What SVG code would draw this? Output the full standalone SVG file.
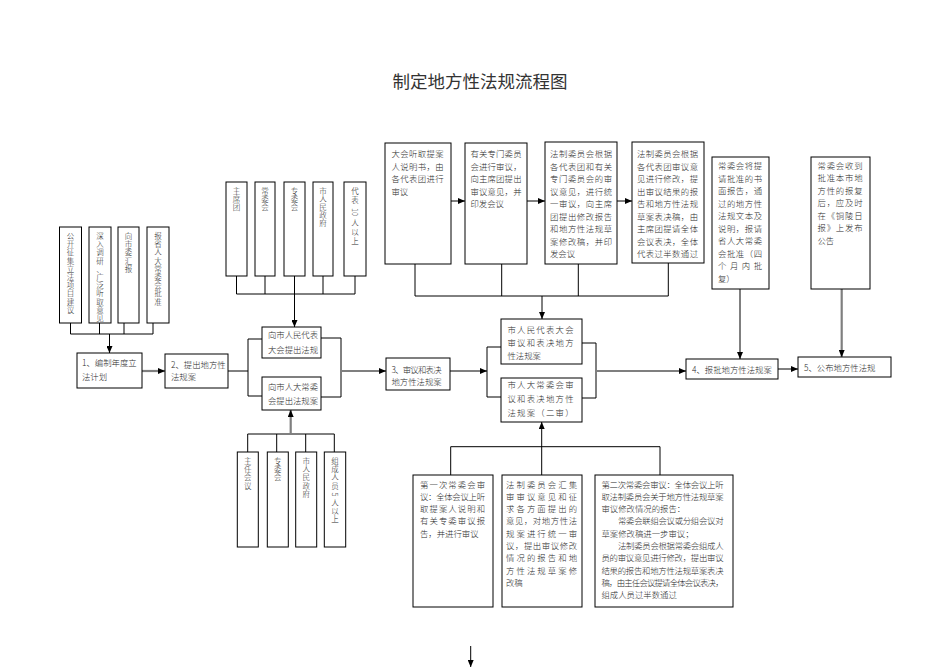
<svg xmlns="http://www.w3.org/2000/svg" width="945" height="669" viewBox="0 0 945 669">
<style>
.b{fill:#fff;stroke:#000;stroke-width:1}
.l{fill:none;stroke:#000;stroke-width:1}
.g{fill:none;stroke:#7f7f7f;stroke-width:2.2}
text{font-family:"Noto Sans CJK SC","Noto Sans",sans-serif;font-size:8.4px;fill:#2a2a2a;font-weight:300}
.v{font-size:7.5px;text-anchor:middle}
.title{font-size:17.5px;fill:#333;font-weight:400}
</style>
<defs>
<marker id="a" markerWidth="7" markerHeight="6" refX="7" refY="3" orient="auto" markerUnits="userSpaceOnUse"><path d="M0,0 L7,3 L0,6z" fill="#000"/></marker>
</defs>
<rect width="945" height="669" fill="#fff"/>
<text class="title" x="480" y="88" text-anchor="middle">制定地方性法规流程图</text>

<g id="connectors">
<path class="l" d="M70.5,323V334M99.5,323V334M124,323V334M153,323V334M70.5,334H153"/>
<path class="l" d="M109.5,334V353" marker-end="url(#a)"/>
<path class="g" d="M142,371H165" marker-end="url(#a)"/>
<path class="l" d="M228,371H248"/>
<path class="l" d="M262,339H248V396H262"/>
<path class="l" d="M321,338H341V397H321"/>
<path class="g" d="M341,371H386" marker-end="url(#a)"/>
<path class="l" d="M236.5,276V294M265,276V294M294.5,276V294M323,276V294M355,276V294M236.5,294H355"/>
<path class="l" d="M294.5,294V327" marker-end="url(#a)"/>
<path class="l" d="M247.7,452V434H334.3V452M276.7,434V452M305.7,434V452"/>
<path class="g" d="M290.7,434V410" marker-end="url(#a)"/>
<path class="g" d="M450,371H487" marker-end="url(#a)"/>
<path class="l" d="M501,347H487V397H501"/>
<path class="l" d="M582,343H596V398H582"/>
<path class="g" d="M596,371H686" marker-end="url(#a)"/>
<path class="l" d="M451,201H465" marker-end="url(#a)"/>
<path class="l" d="M527,201H545" marker-end="url(#a)"/>
<path class="l" d="M617,201H632" marker-end="url(#a)"/>
<path class="l" d="M415,264V296M501.7,264V296M578.3,264V296M668.3,263V296M415,296H668.3"/>
<path class="l" d="M542,296V319" marker-end="url(#a)"/>
<path class="l" d="M740,289V359" marker-end="url(#a)"/>
<path class="g" d="M841.7,289V357" marker-end="url(#a)"/>
<path class="l" d="M778,369H798" marker-end="url(#a)"/>
<path class="l" d="M450.7,475V446.7H660V475"/>
<path class="l" d="M541.7,475V422" marker-end="url(#a)"/>
<path class="l" d="M470.7,646V667" marker-end="url(#a)"/>
</g>

<g id="n-l1"><rect class="b" x="59.5" y="227" width="22" height="96"/><text class="v" x="70.5 70.5 70.5 70.5 70.5 70.5 70.5 70.5 70.5 70.5" y="239 247.2 255.4 263.6 271.8 280 288.2 296.4 304.6 312.8">公开征集立法项目建议</text></g>
<g id="n-l2"><rect class="b" x="89" y="227" width="22" height="96"/><text class="v" x="100 100 100 100 100 100 100 100 100 100 100" y="239 247.2 255.4 263.6 271.8 280 288.2 296.4 304.6 312.8 321">深入调研、广泛听取意见</text></g>
<g id="n-l3"><rect class="b" x="118" y="227" width="21" height="96"/><text class="v" x="128.5 128.5 128.5 128.5 128.5" y="239 247.2 255.4 263.6 271.8">向市委汇报</text></g>
<g id="n-l4"><rect class="b" x="147" y="227" width="22" height="96"/><text class="v" x="158 158 158 158 158 158 158 158 158" y="239 247.2 255.4 263.6 271.8 280 288.2 296.4 304.6">报省人大常委会批准</text></g>

<g id="n-t1"><rect class="b" x="226" y="182" width="21" height="94"/><text class="v" x="236.5 236.5 236.5" y="193.5 201.7 209.9">主席团</text></g>
<g id="n-t2"><rect class="b" x="255" y="182" width="20" height="94"/><text class="v" x="265 265 265" y="193.5 201.7 209.9">常委会</text></g>
<g id="n-t3"><rect class="b" x="284" y="182" width="21" height="94"/><text class="v" x="294.5 294.5 294.5" y="193.5 201.7 209.9">专委会</text></g>
<g id="n-t4"><rect class="b" x="313" y="182" width="20" height="94"/><text class="v" x="323 323 323 323 323" y="193.5 201.7 209.9 218.1 226.3">市人民政府</text></g>
<g id="n-t5"><rect class="b" x="344" y="182" width="22" height="94"/><text class="v" x="355 355" y="194 203">代表</text><text class="v" transform="translate(355,212) rotate(90)" dominant-baseline="central" x="0" y="0">10</text><text class="v" x="355 355 355" y="226 235 244">人以上</text></g>

<g id="n-b1"><rect class="b" x="237.3" y="452" width="21" height="95"/><text class="v" x="247.8 247.8 247.8 247.8" y="464 472.2 480.4 488.6">主任会议</text></g>
<g id="n-b2"><rect class="b" x="267.3" y="452" width="21" height="95"/><text class="v" x="277.8 277.8 277.8" y="464 472.2 480.4">专委会</text></g>
<g id="n-b3"><rect class="b" x="295.7" y="452" width="21" height="95"/><text class="v" x="306.2 306.2 306.2 306.2 306.2" y="464 472.2 480.4 488.6 496.8">市人民政府</text></g>
<g id="n-b4"><rect class="b" x="324.3" y="452" width="21.4" height="95"/><text class="v" x="335 335 335 335" y="464 472.2 480.4 488.6">组成人员</text><text class="v" transform="translate(335,494.5) rotate(90)" dominant-baseline="central" x="0" y="0">5</text><text class="v" x="335 335 335" y="506 514.2 522.4">人以上</text></g>

<g id="n1"><rect class="b" x="77" y="353" width="65" height="35"/><text x="82" y="366">1、编制年度立</text><text x="82" y="380">法计划</text></g>
<g id="n2"><rect class="b" x="165" y="354" width="63" height="34"/><text x="171" y="367.5">2、提出地方性</text><text x="171" y="380">法规案</text></g>

<g id="nA"><rect class="b" x="262" y="327" width="59" height="31"/><text x="268" y="338" textLength="50" lengthAdjust="spacing">向市人民代表</text><text x="268" y="353" textLength="50" lengthAdjust="spacing">大会提出法规</text></g>
<g id="nB"><rect class="b" x="262" y="377" width="59" height="33"/><text x="268" y="390" textLength="50" lengthAdjust="spacing">向市人大常委</text><text x="268" y="404" textLength="50" lengthAdjust="spacing">会提出法规案</text></g>

<g id="n3"><rect class="b" x="386" y="358" width="64" height="32"/><text x="391.5" y="372.5" textLength="50" lengthAdjust="spacing">3、审议和表决</text><text x="391.5" y="385">地方性法规案</text></g>

<g id="nC"><rect class="b" x="501" y="319" width="81" height="45"/><text x="507.5" y="333" textLength="66" lengthAdjust="spacing">市人民代表大会</text><text x="507.5" y="346" textLength="66" lengthAdjust="spacing">审议和表决地方</text><text x="507.5" y="359">性法规案</text></g>
<g id="nD"><rect class="b" x="501" y="378" width="81" height="44"/><text x="507.5" y="387.5" textLength="66" lengthAdjust="spacing">市人大常委会审</text><text x="507.5" y="402" textLength="66" lengthAdjust="spacing">议和表决地方性</text><text x="507.5" y="416" textLength="66" lengthAdjust="spacing">法规案（二审）</text></g>

<g id="nE1"><rect class="b" x="385" y="143" width="66" height="121"/><text x="391.5" y="157" textLength="52" lengthAdjust="spacing">大会听取提案</text><text x="391.5" y="169.5" textLength="52" lengthAdjust="spacing">人说明书，由</text><text x="391.5" y="182" textLength="52" lengthAdjust="spacing">各代表团进行</text><text x="391.5" y="194.5">审议</text></g>
<g id="nE2"><rect class="b" x="465" y="143" width="62" height="121"/><text x="470.5" y="157" textLength="51" lengthAdjust="spacing">有关专门委员</text><text x="470.5" y="169.5" textLength="51" lengthAdjust="spacing">会进行审议，</text><text x="470.5" y="182" textLength="51" lengthAdjust="spacing">向主席团提出</text><text x="470.5" y="194.5" textLength="51" lengthAdjust="spacing">审议意见，并</text><text x="470.5" y="207">印发会议</text></g>
<g id="nE3"><rect class="b" x="545" y="142" width="72" height="122"/><text x="550" y="157" textLength="62" lengthAdjust="spacing">法制委员会根据</text><text x="550" y="169.5" textLength="62" lengthAdjust="spacing">各代表团和有关</text><text x="550" y="182" textLength="62" lengthAdjust="spacing">专门委员会的审</text><text x="550" y="194.5" textLength="62" lengthAdjust="spacing">议意见，进行统</text><text x="550" y="207" textLength="62" lengthAdjust="spacing">一审议，向主席</text><text x="550" y="219.5" textLength="62" lengthAdjust="spacing">团提出修改报告</text><text x="550" y="232" textLength="62" lengthAdjust="spacing">和地方性法规草</text><text x="550" y="244.5" textLength="62" lengthAdjust="spacing">案修改稿，并印</text><text x="550" y="257">发会议</text></g>
<g id="nE4"><rect class="b" x="632" y="142" width="72" height="121"/><text x="637" y="157" textLength="61" lengthAdjust="spacing">法制委员会根据</text><text x="637" y="169.5" textLength="61" lengthAdjust="spacing">各代表团审议意</text><text x="637" y="182" textLength="61" lengthAdjust="spacing">见进行修改，提</text><text x="637" y="194.5" textLength="61" lengthAdjust="spacing">出审议结果的报</text><text x="637" y="207" textLength="61" lengthAdjust="spacing">告和地方性法规</text><text x="637" y="219.5" textLength="61" lengthAdjust="spacing">草案表决稿，由</text><text x="637" y="232" textLength="61" lengthAdjust="spacing">主席团提请全体</text><text x="637" y="244.5" textLength="61" lengthAdjust="spacing">会议表决，全体</text><text x="637" y="257" textLength="61" lengthAdjust="spacing">代表过半数通过</text></g>

<g id="nF"><rect class="b" x="712" y="157" width="57" height="132"/><text x="718" y="169" textLength="44" lengthAdjust="spacing">常委会将提</text><text x="718" y="181.5" textLength="44" lengthAdjust="spacing">请批准的书</text><text x="718" y="194" textLength="44" lengthAdjust="spacing">面报告，通</text><text x="718" y="206.5" textLength="44" lengthAdjust="spacing">过的地方性</text><text x="718" y="219" textLength="44" lengthAdjust="spacing">法规文本及</text><text x="718" y="231.5" textLength="44" lengthAdjust="spacing">说明，报请</text><text x="718" y="244" textLength="44" lengthAdjust="spacing">省人大常委</text><text x="718" y="256.5" textLength="44" lengthAdjust="spacing">会批准（四</text><text x="718" y="269" textLength="44" lengthAdjust="spacing">个月内批</text><text x="718" y="281.5">复）</text></g>
<g id="nG"><rect class="b" x="811" y="157" width="59" height="132"/><text x="817.5" y="168.5" textLength="45" lengthAdjust="spacing">常委会收到</text><text x="817.5" y="181" textLength="45" lengthAdjust="spacing">批准本市地</text><text x="817.5" y="193.5" textLength="45" lengthAdjust="spacing">方性的报复</text><text x="817.5" y="206" textLength="45" lengthAdjust="spacing">后，应及时</text><text x="817.5" y="218.5" textLength="45" lengthAdjust="spacing">在《铜陵日</text><text x="817.5" y="231" textLength="45" lengthAdjust="spacing">报》上发布</text><text x="817.5" y="243.5">公告</text></g>

<g id="n4"><rect class="b" x="686" y="359" width="92" height="20"/><text x="692" y="372.5">4、报批地方性法规案</text></g>
<g id="n5"><rect class="b" x="798" y="357" width="93" height="20"/><text x="804" y="370.5">5、公布地方性法规</text></g>

<g id="nI1"><rect class="b" x="413" y="475" width="80" height="132"/><text x="420" y="487.5" textLength="65" lengthAdjust="spacing">第一次常委会审</text><text x="420" y="499.8" textLength="65" lengthAdjust="spacing">议：全体会议上听</text><text x="420" y="512.1" textLength="65" lengthAdjust="spacing">取提案人说明和</text><text x="420" y="524.4" textLength="65" lengthAdjust="spacing">有关专委审议报</text><text x="420" y="536.7">告，并进行审议</text></g>
<g id="nI2"><rect class="b" x="502" y="475" width="80" height="132"/><text x="506" y="487.5" textLength="71" lengthAdjust="spacing">法制委员会汇集</text><text x="506" y="499.8" textLength="71" lengthAdjust="spacing">审审议意见和征</text><text x="506" y="512.1" textLength="71" lengthAdjust="spacing">求各方面提出的</text><text x="506" y="524.4" textLength="71" lengthAdjust="spacing">意见，对地方性法</text><text x="506" y="536.7" textLength="71" lengthAdjust="spacing">规案进行统一审</text><text x="506" y="549" textLength="71" lengthAdjust="spacing">议，提出审议修改</text><text x="506" y="561.3" textLength="71" lengthAdjust="spacing">情况的报告和地</text><text x="506" y="573.6" textLength="71" lengthAdjust="spacing">方性法规草案修</text><text x="506" y="585.9">改稿</text></g>
<g id="nI3"><rect class="b" x="595" y="475" width="138" height="132"/><text x="601.5" y="487.5" textLength="122" lengthAdjust="spacing">第二次常委会审议：全体会议上听</text><text x="601.5" y="499.8" textLength="122" lengthAdjust="spacing">取法制委员会关于地方性法规草案</text><text x="601.5" y="512.1">审议修改情况的报告：</text><text x="618" y="524.4" textLength="105.5" lengthAdjust="spacing">常委会联组会议或分组会议对</text><text x="601.5" y="536.7">草案修改稿进一步审议；</text><text x="618" y="549" textLength="105.5" lengthAdjust="spacing">法制委员会根据常委会组成人</text><text x="601.5" y="561.3" textLength="122" lengthAdjust="spacing">员的审议意见进行修改，提出审议</text><text x="601.5" y="573.6" textLength="122" lengthAdjust="spacing">结果的报告和地方性法规草案表决</text><text x="601.5" y="585.9" textLength="122" lengthAdjust="spacing">稿，由主任会议提请全体会议表决，</text><text x="601.5" y="598.2">组成人员过半数通过</text></g>
</svg>
